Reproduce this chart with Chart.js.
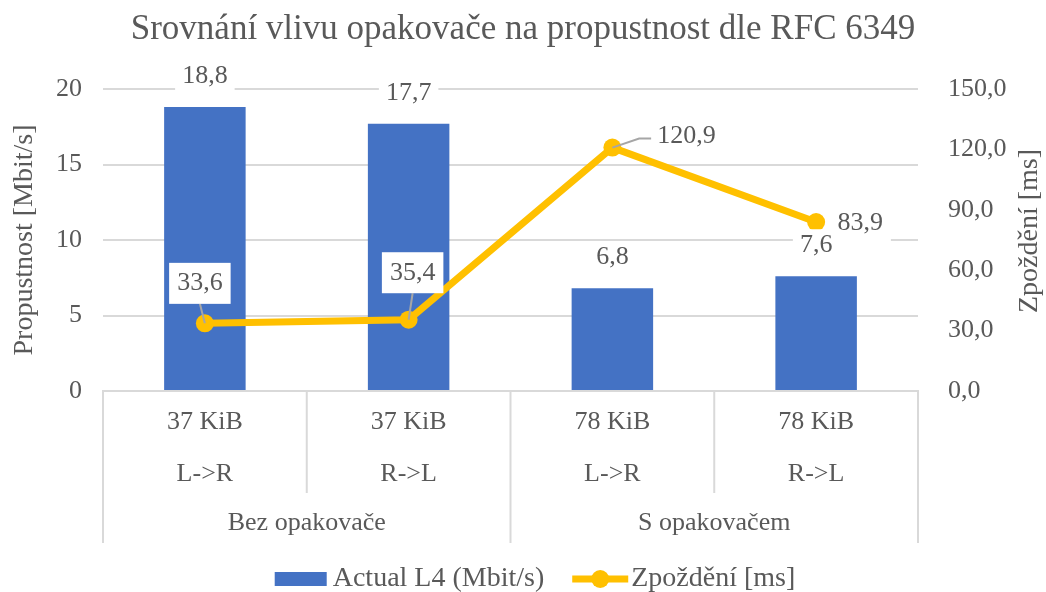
<!DOCTYPE html>
<html>
<head>
<meta charset="utf-8">
<script src="https://cdn.jsdelivr.net/npm/chart.js@4.4.1/dist/chart.umd.min.js"></script>
<style>
  html, body { margin: 0; padding: 0; background: #fff; }
  #wrap { width: 1046px; height: 592px; }
</style>
</head>
<body>
<div id="wrap"><canvas id="chart"></canvas></div>
<script>
// --- data ---
const sizes = ['37 KiB', '37 KiB', '78 KiB', '78 KiB'];
const directions = ['L->R', 'R->L', 'L->R', 'R->L'];
const groupNames = ['Bez opakovače', 'S opakovačem'];
const groupSpans = [2, 2];
const throughput = [18.8, 17.7, 6.8, 7.6];   // Actual L4 (Mbit/s)
const delay = [33.6, 35.4, 120.9, 83.9];     // Zpoždění [ms]

const FONT = "'Liberation Serif', 'Times New Roman', serif";
const TXT = '#595959';
const GRID = '#d9d9d9';
const BLUE = '#4472c4';
const GOLD = '#ffc000';

const fmt1 = v => v.toFixed(1).replace('.', ',');

// label placement (pixel offsets from the mark)
const barLabelDy = -31;
const lineLabelStyle = [
    { dx: -5, dy: -40, leader: 'straight' },
    { dx: 4, dy: -47, leader: 'straight' },
    { dx: 74, dy: -11, leader: 'elbow' },
    { dx: 44, dy: 1, leader: null }
];

// data labels with white boxes behind them
const labelPlugin = {
    id: 'valueLabels',
    afterDatasetsDraw(chart) {
        const ctx = chart.ctx;
        ctx.save();
        ctx.font = '26px ' + FONT;
        ctx.textAlign = 'center';
        ctx.textBaseline = 'middle';

        chart.getDatasetMeta(1).data.forEach((el, i) => {
            const s = lineLabelStyle[i];
            const txt = fmt1(delay[i]);
            const x = el.x + s.dx, y = el.y + s.dy;
            const w = ctx.measureText(txt).width + 16;
            const h = 41;

            ctx.strokeStyle = '#a6a6a6';
            ctx.lineWidth = 2;
            if (s.leader === 'straight') {
                ctx.beginPath();
                ctx.moveTo(x, y + h / 2);
                ctx.lineTo(el.x, el.y);
                ctx.stroke();
            }
            ctx.fillStyle = '#fff';
            ctx.fillRect(x - w / 2, y - h / 2, w, h);
            if (s.leader === 'elbow') {
                ctx.beginPath();
                ctx.moveTo(el.x, el.y);
                ctx.lineTo(x - w / 2 - 10, y + 2);
                ctx.lineTo(x - w / 2 + 2, y + 2);
                ctx.stroke();
            }
            ctx.fillStyle = TXT;
            ctx.fillText(txt, x, y);
        });

        chart.getDatasetMeta(0).data.forEach((el, i) => {
            const txt = fmt1(throughput[i]);
            const x = el.x, y = el.y + barLabelDy;
            const w = ctx.measureText(txt).width + 14;
            ctx.fillStyle = '#fff';
            ctx.fillRect(x - w / 2, y - 16, w, 34);
            ctx.fillStyle = TXT;
            ctx.fillText(txt, x, y);
        });
        ctx.restore();
    }
};

// two-level category axis, right axis title, legend
const decorPlugin = {
    id: 'decor',
    afterDraw(chart) {
        const ctx = chart.ctx;
        const area = chart.chartArea;
        const xs = chart.scales.x;
        ctx.save();

        // separators between categories
        const n = sizes.length;
        const edges = [area.left];
        for (let i = 1; i < n; i++) {
            edges.push((xs.getPixelForValue(i - 1) + xs.getPixelForValue(i)) / 2);
        }
        edges.push(area.right);
        const groupEdges = new Set([0]);
        let acc = 0;
        groupSpans.forEach(s => { acc += s; groupEdges.add(acc); });

        ctx.strokeStyle = GRID;
        ctx.lineWidth = 2;
        edges.forEach((ex, i) => {
            ctx.beginPath();
            ctx.moveTo(ex, area.bottom);
            ctx.lineTo(ex, area.bottom + (groupEdges.has(i) ? 152 : 102));
            ctx.stroke();
        });

        // group labels
        ctx.font = '26px ' + FONT;
        ctx.fillStyle = TXT;
        ctx.textAlign = 'center';
        ctx.textBaseline = 'middle';
        let start = 0;
        groupSpans.forEach((s, g) => {
            const cx = (edges[start] + edges[start + s]) / 2;
            ctx.fillText(groupNames[g], cx, area.bottom + 132);
            start += s;
        });

        // right axis title, reading upwards
        ctx.font = '28px ' + FONT;
        ctx.save();
        ctx.translate(chart.width - 16, 231);
        ctx.rotate(-Math.PI / 2);
        ctx.fillText('Zpoždění [ms]', 0, 0);
        ctx.restore();

        // legend
        ctx.font = '28px ' + FONT;
        const ly = chart.height - 13;
        const t1 = chart.data.datasets[0].label;
        const t2 = chart.data.datasets[1].label;
        const w1 = ctx.measureText(t1).width;
        const w2 = ctx.measureText(t2).width;
        const total = 52 + 6 + w1 + 28 + 56 + 3 + w2;
        let lx = 535 - total / 2;
        ctx.fillStyle = BLUE;
        ctx.fillRect(lx, ly - 7, 52, 14);
        lx += 58;
        ctx.fillStyle = TXT;
        ctx.textAlign = 'left';
        ctx.fillText(t1, lx, ly);
        lx += w1 + 28;
        ctx.strokeStyle = GOLD;
        ctx.lineWidth = 7;
        ctx.beginPath();
        ctx.moveTo(lx, ly);
        ctx.lineTo(lx + 56, ly);
        ctx.stroke();
        ctx.fillStyle = GOLD;
        ctx.beginPath();
        ctx.arc(lx + 28, ly, 9, 0, Math.PI * 2);
        ctx.fill();
        lx += 59;
        ctx.fillStyle = TXT;
        ctx.fillText(t2, lx, ly);

        ctx.restore();
    }
};

const ctx = document.getElementById('chart').getContext('2d');
const chart = new Chart(ctx, {
    type: 'bar',
    data: {
        labels: sizes.map((s, i) => [s, directions[i]]),
        datasets: [{
            type: 'bar',
            label: 'Actual L4 (Mbit/s)',
            data: throughput,
            backgroundColor: BLUE,
            yAxisID: 'y',
            barPercentage: 0.4,
            categoryPercentage: 1,
            order: 1
        }, {
            type: 'line',
            label: 'Zpoždění [ms]',
            data: delay,
            borderColor: GOLD,
            borderWidth: 7,
            pointRadius: 9,
            pointBackgroundColor: GOLD,
            pointBorderWidth: 0,
            tension: 0,
            yAxisID: 'y1',
            order: 0
        }]
    },
    options: {
        responsive: true,
        maintainAspectRatio: false,
        animation: false,
        events: [],
        layout: { padding: 0 },
        plugins: {
            legend: { display: false },
            tooltip: { enabled: false },
            title: {
                display: true,
                text: 'Srovnání vlivu opakovače na propustnost dle RFC 6349',
                color: TXT,
                font: { family: FONT, size: 35, weight: 'normal', lineHeight: 1.2 },
                padding: { top: 9, bottom: 38 }
            }
        },
        scales: {
            x: {
                grid: { display: false, drawTicks: false },
                border: { display: true, color: GRID, width: 2 },
                ticks: {
                    color: TXT,
                    padding: 5,
                    maxRotation: 0,
                    autoSkip: false,
                    font: { family: FONT, size: 26, lineHeight: 2 }
                },
                afterFit(scale) { scale.height = 201; }
            },
            y: {
                position: 'left',
                min: 0,
                max: 20,
                ticks: {
                    stepSize: 5,
                    color: TXT,
                    padding: 21,
                    font: { family: FONT, size: 26 }
                },
                grid: { color: GRID, lineWidth: 2, drawTicks: false },
                border: { display: false },
                title: {
                    display: true,
                    text: 'Propustnost [Mbit/s]',
                    color: TXT,
                    font: { family: FONT, size: 28, lineHeight: 1.2 },
                    padding: { top: 8, bottom: 0 }
                },
                afterFit(scale) { scale.width = 103; }
            },
            y1: {
                position: 'right',
                min: 0,
                max: 150,
                ticks: {
                    stepSize: 30,
                    color: TXT,
                    padding: 30,
                    font: { family: FONT, size: 26 },
                    callback: v => fmt1(v)
                },
                grid: { display: false, drawTicks: false },
                border: { display: false },
                afterFit(scale) { scale.width = 128; }
            }
        }
    },
    plugins: [labelPlugin, decorPlugin]
});
</script>
</body>
</html>
